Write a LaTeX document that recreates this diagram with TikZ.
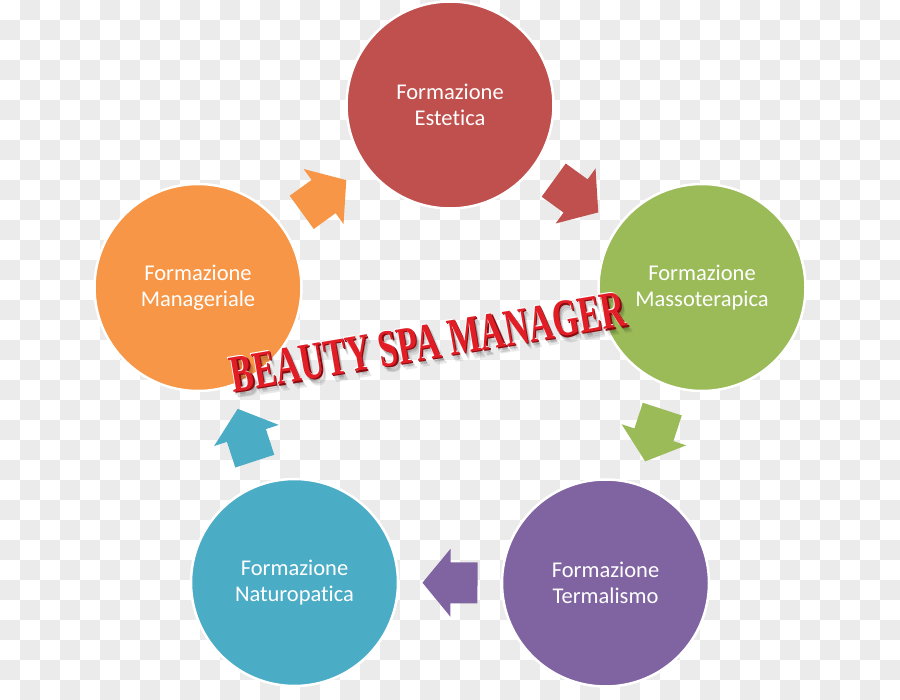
\documentclass[tikz,border=0pt]{standalone}
\usepackage{fontspec}
\setmainfont{Carlito}[Ligatures={NoCommon}]
\newfontfamily\titlefont{Liberation Serif}
\usepackage{graphicx}
\usetikzlibrary{calc}
\definecolor{cRed}{HTML}{C0504D}
\definecolor{cGreen}{HTML}{9BBB59}
\definecolor{cPurple}{HTML}{8064A2}
\definecolor{cBlue}{HTML}{4BACC6}
\definecolor{cOrange}{HTML}{F79646}
\definecolor{checkgray}{HTML}{EBEBEB}
\definecolor{titlered}{HTML}{E11E26}
\definecolor{titledark}{HTML}{8A0A10}
\newcommand\bsmtext{\scalebox{0.68}[1.05]{\fontsize{50}{50}\selectfont\titlefont\bfseries BEAUTY SPA MANAGER}}
\tikzset{
  bubble/.style={circle, minimum size=207pt, inner sep=0pt, draw=white, line width=2.5pt,
    text=white, align=center, font=\fontsize{22.5}{26}\selectfont},
  pics/blockarrow/.style={code={
    \fill[#1] (27.5,0) -- (-0.5,34) -- (-0.5,20.5) -- (-27.5,20.5) -- (-27.5,-20.5)
      -- (-0.5,-20.5) -- (-0.5,-34) -- cycle;}},
  titletext/.style={rotate=9.6, anchor=base, inner sep=0pt},
}
\begin{document}
\begin{tikzpicture}[x=1pt, y=-1pt, allow upside down=true]
\useasboundingbox (0,0) rectangle (900,700);
% checkerboard background
\fill[white] (0,0) rectangle (900,700);
\foreach \j in {0,...,34}{
  \foreach \i in {0,...,44}{
    \pgfmathtruncatemacro\k{mod(\i+\j,2)}
    \ifnum\k=1 \fill[checkgray] (20*\i,20*\j) rectangle ++(20,20);\fi
  }
}
% circles
\node[bubble, fill=cRed]    (est) at (450,105)   {Formazione\\Estetica};
\node[bubble, fill=cGreen]  (mas) at (702,287.5) {Formazione\\Massoterapica};
\node[bubble, fill=cPurple] (ter) at (605.5,583) {Formazione\\Termalismo};
\node[bubble, fill=cBlue]   (nat) at (294.5,582.5) {Formazione\\Naturopatica};
\node[bubble, fill=cOrange] (man) at (198,287.5) {Formazione\\Manageriale};
% block arrows
\path (est.center) -- pic[sloped, pos=0.5]{blockarrow=cRed} (mas.center);
\path (mas.center) -- pic[sloped, pos=0.5]{blockarrow=cGreen} (ter.center);
\path (ter.center) -- pic[sloped, pos=0.5]{blockarrow=cPurple} (nat.center);
\path (nat.center) -- pic[sloped, pos=0.5]{blockarrow=cBlue} (man.center);
\path (man.center) -- pic[sloped, pos=0.5]{blockarrow=cOrange} (est.center);
% title
\coordinate (tb) at (431,359);
\foreach \d/\o in {2.5/0.14,4/0.12,5.5/0.09}{
  \node[titletext, text=black, opacity=\o] at ($(tb)+(0.8*\d,1.2*\d)$) {\bsmtext};
}
\node[titletext, text=titledark] (titledeep) at ($(tb)+(1.3,1.3)$) {\bsmtext};
\node[titletext, text=white] (titlelight) at ($(tb)+(-1,-1)$) {\bsmtext};
\node[titletext, text=titlered] (title) at (tb) {\bsmtext};
\end{tikzpicture}
\end{document}
